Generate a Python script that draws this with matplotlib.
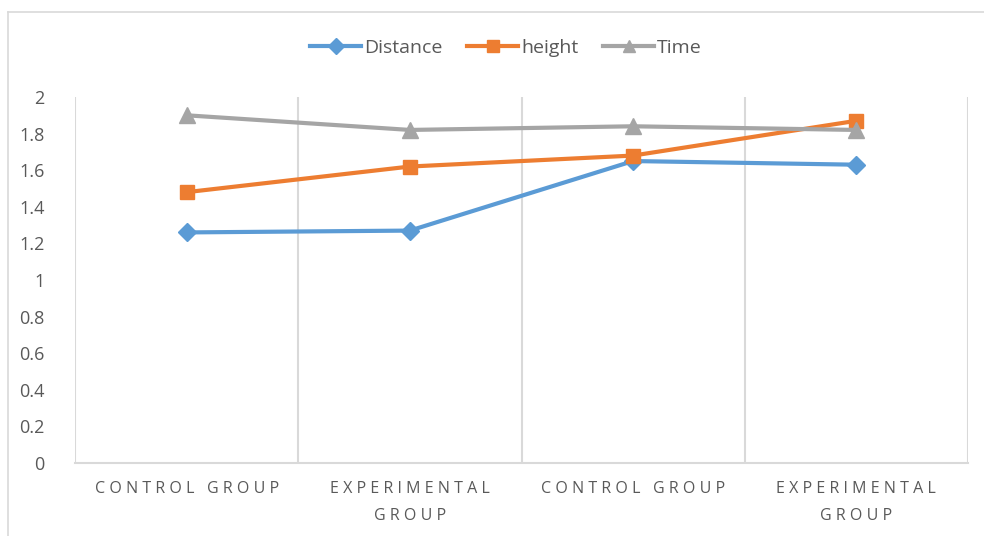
import matplotlib.pyplot as plt
from matplotlib.lines import Line2D

plt.rcParams['font.family'] = ['Open Sans', 'DejaVu Sans']

groups = ["CONTROL GROUP", "EXPERIMENTAL\nGROUP", "CONTROL GROUP", "EXPERIMENTAL\nGROUP"]
distance = [1.26, 1.27, 1.65, 1.63]
height = [1.48, 1.62, 1.68, 1.87]
time_vals = [1.90, 1.82, 1.84, 1.82]

blue = '#5B9BD5'
orange = '#ED7D31'
grey = '#A5A5A5'
text_col = '#595959'
grid_col = '#D9D9D9'

W, H = 984, 536
fig = plt.figure(figsize=(W / 100, H / 100), dpi=100)

# outer chart frame (only top and left edges fall inside the canvas)
fig.add_artist(Line2D([8 / W, 8 / W], [0, 1 - 12 / H], color=grid_col, lw=1.2))
fig.add_artist(Line2D([8 / W, 1], [1 - 12 / H, 1 - 12 / H], color=grid_col, lw=1.2))

left, right, top, bottom = 75, 968, 97, 463
ax = fig.add_axes([left / W, 1 - bottom / H, (right - left) / W, (bottom - top) / H])

x = range(len(groups))
ax.plot(x, distance, color=blue, lw=3, marker='D', ms=9, label='Distance', zorder=3)
ax.plot(x, height, color=orange, lw=3, marker='s', ms=10, label='height', zorder=3)
ax.plot(x, time_vals, color=grey, lw=3, marker='^', ms=11, label='Time', zorder=3)

ax.set_xlim(-0.5, len(groups) - 0.5)
ax.set_ylim(0, 2)
ax.set_yticks([i / 5 for i in range(11)])
ax.set_yticklabels(['0', '0.2', '0.4', '0.6', '0.8', '1', '1.2', '1.4', '1.6', '1.8', '2'])

# vertical gridlines at category boundaries
for b in [i - 0.5 for i in range(len(groups) + 1)]:
    ax.axvline(b, color=grid_col, lw=1.5, zorder=1)

for s in ['top', 'right', 'left']:
    ax.spines[s].set_visible(False)
ax.spines['bottom'].set_color(grid_col)
ax.spines['bottom'].set_linewidth(1.5)

ax.tick_params(axis='y', length=0, pad=22, labelsize=13, labelcolor=text_col)
ax.set_xticks([])

# spaced-out category labels
def spaced(s):
    return '\n'.join('\u2009\u200a'.join(ch for ch in line) for line in s.split('\n'))

for i, g in enumerate(groups):
    ax.text(i, -0.1, spaced(g), ha='center', va='top', fontsize=11.5, color=text_col,
            linespacing=1.85)

fig.legend(loc='center', bbox_to_anchor=(506 / W, 1 - 48 / H), ncol=3, frameon=False,
           fontsize=14, labelcolor=text_col, handlelength=2.6, columnspacing=1.3,
           handletextpad=0.15, markerscale=0.85)

fig.savefig('out.png', dpi=100)
